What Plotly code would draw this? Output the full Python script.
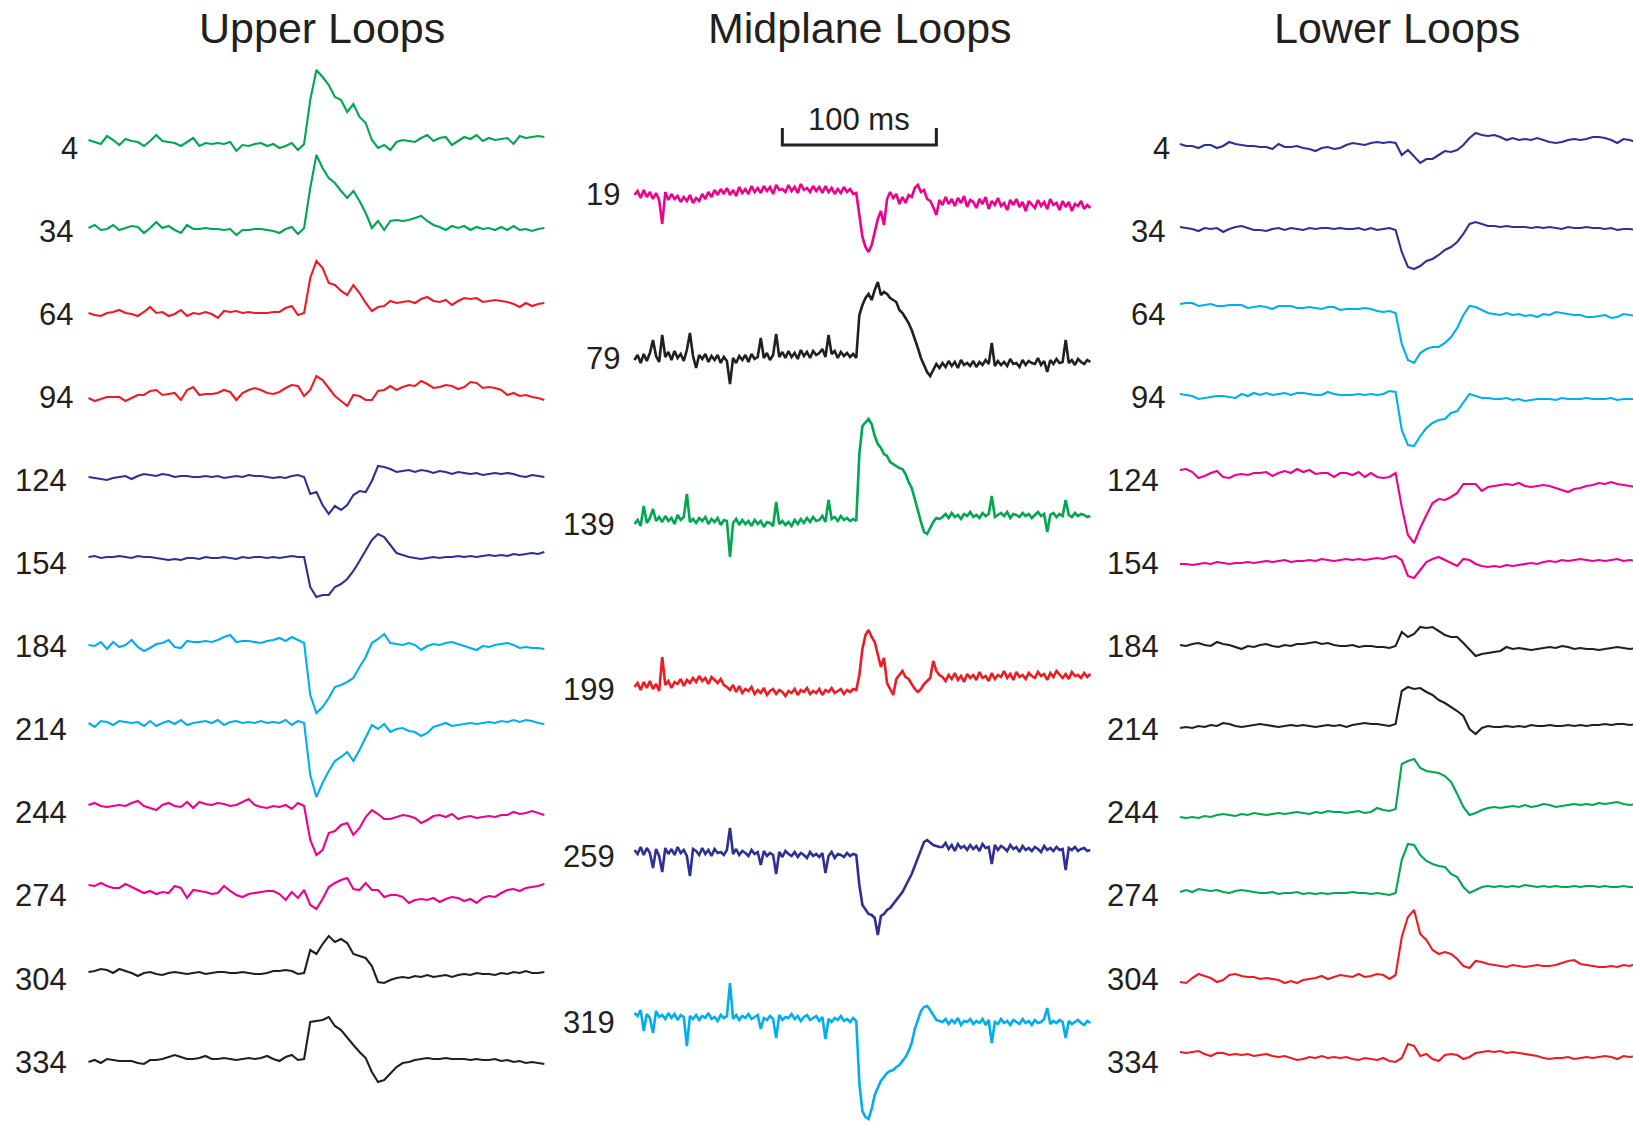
import plotly.graph_objects as go

# ---------------- data (values in trace units, up = positive) ----------------
# time grids (ms)
t_side = [4 * i for i in range(75)]     # upper / lower loops, 4 ms sampling
t_mid = [2 * i for i in range(149)]     # midplane loops, 2 ms sampling

upper_labels = ["4", "34", "64", "94", "124", "154", "184", "214", "244", "274", "304", "334"]
mid_labels = ["19", "79", "139", "199", "259", "319"]
lower_labels = ["4", "34", "64", "94", "124", "154", "184", "214", "244", "274", "304", "334"]

up_4 = [0,-2,-4,4,0,-5,1,-1,-2,-6,-1,5,-1,-2,-3,-6,-2,2,-6,-3,-4,-3,-4,-2,-11,-5,-6,-4,-3,-6,-4,-8,-6,-3,-10,-4,
        40,70,63,55,43,40,28,36,23,17,0,-8,-5,-10,
        -2,0,-1,-2,2,5,-1,2,3,-5,-1,3,1,5,-1,2,0,1,2,-4,4,2,3,4,3]
up_34 = [0,3,-2,-1,3,-2,0,2,1,-5,0,6,0,2,-2,-5,3,-1,-1,0,-1,-1,-2,-1,-7,-2,-2,-1,-1,-2,-3,-5,-1,1,-6,0,
         40,73,60,50,45,37,30,37,27,15,0,7,-2,7,
         8,7,8,10,12,7,3,1,-2,2,0,2,-2,1,-1,0,-2,1,-2,2,-2,-1,-3,-1,0]
up_64 = [0,-2,-3,0,1,3,0,-1,-3,1,6,0,1,-3,-1,3,-3,0,-1,1,-1,-5,2,1,2,0,1,0,0,0,1,1,5,7,-2,0,
         35,52,45,30,28,22,18,28,20,10,2,6,7,12,
         10,11,12,10,14,16,12,11,13,8,12,15,14,15,11,12,13,12,11,9,6,10,7,9,10]
up_94 = [0,-3,-1,1,1,1,-3,0,3,3,7,8,3,4,5,-2,8,11,3,4,4,5,8,6,-2,5,8,10,8,5,4,6,10,13,12,2,
         8,22,18,10,2,-3,-8,3,2,-2,-2,7,8,12,
         8,11,13,12,17,14,10,11,13,12,9,11,16,15,10,11,10,8,3,5,2,3,1,0,-2]
up_124 = [0,-1,-2,-3,-1,0,1,-2,1,3,2,1,3,2,0,1,1,0,0,1,0,1,-1,0,1,0,2,1,1,0,-1,0,-1,1,2,0,
          -17,-15,-28,-37,-29,-33,-28,-18,-14,-15,-4,11,10,8,
          5,6,7,5,7,6,4,6,5,3,5,4,3,4,2,3,4,3,4,3,1,0,2,1,0]
up_154 = [0,1,-1,0,0,1,0,-1,1,0,0,-1,-2,-3,-2,-3,-1,-1,-2,0,-1,-1,0,-1,-2,0,-1,0,0,-1,0,-1,0,1,0,0,
          -30,-40,-38,-38,-30,-27,-22,-14,-4,6,17,23,20,12,
          4,2,0,-1,-2,-1,0,-1,0,0,1,0,1,0,1,2,1,2,1,3,2,3,4,3,5]
up_184 = [0,-1,3,-4,3,-2,0,5,-2,-6,-3,1,2,5,-2,-3,4,3,3,4,3,5,8,10,3,4,4,3,2,4,5,7,4,8,5,2,
          -50,-68,-62,-53,-42,-40,-37,-33,-22,-12,2,6,11,2,
          1,0,2,0,-5,-1,1,0,2,3,1,-1,-3,-5,-1,-2,0,1,2,0,-3,-2,-3,-3,-4]
up_214 = [0,-4,2,1,-2,2,1,0,1,-3,2,-3,0,2,-1,3,-2,0,1,2,0,3,-2,1,2,0,1,0,2,0,1,0,3,-2,2,0,
          -52,-74,-60,-48,-38,-34,-29,-38,-27,-15,-2,-6,-1,-9,
          -6,-5,-8,-9,-13,-10,-4,-2,0,-3,-2,-1,0,-1,0,1,0,2,1,3,1,3,2,0,-1]
up_244 = [0,2,-1,-2,-1,0,-1,2,4,-1,-3,-5,0,2,-1,-2,3,-3,3,1,0,2,1,-1,0,3,6,0,-2,-3,-1,-2,0,-4,2,-1,
          -35,-50,-45,-28,-26,-20,-18,-30,-23,-12,-5,-9,-14,-14,
          -12,-10,-11,-13,-18,-15,-11,-10,-12,-9,-14,-12,-11,-13,-12,-11,-12,-10,-10,-7,-9,-8,-6,-8,-10]
up_274 = [0,-1,2,-1,-3,-3,1,-2,-5,-8,-6,-9,-7,-8,-1,-3,-13,-5,-6,-7,-9,-8,-1,-6,-10,-12,-9,-8,-7,-6,-6,-9,-15,-7,-13,-5,
          -20,-24,-14,-2,2,5,7,-4,-5,2,-5,-5,-12,-10,
          -10,-12,-18,-15,-14,-15,-13,-17,-14,-12,-13,-16,-14,-18,-13,-11,-12,-8,-5,-4,-6,-3,-2,-1,1]
up_304 = [0,1,3,2,-1,3,1,-1,-4,-1,0,-2,-3,-1,0,-1,-2,-1,0,-2,-1,0,0,-1,-1,0,-1,-2,-2,-1,1,1,2,1,-2,-1,
          22,18,28,36,30,33,29,18,16,14,6,-10,-11,-8,
          -6,-5,-6,-4,-5,-3,-5,-4,-3,-5,-3,-2,-3,-1,-2,-2,-3,-1,-2,0,-1,1,-1,-1,0]
up_334 = [0,2,-1,3,2,1,1,1,-1,-2,2,2,3,5,7,5,3,3,4,6,3,3,4,3,2,3,4,3,4,6,3,1,5,7,2,3,
          40,41,42,45,36,32,24,17,10,4,-10,-20,-18,-12,
          -5,-1,0,2,3,4,3,3,4,3,3,3,2,3,2,2,3,1,2,0,1,-1,0,-1,-2]

mid_19 = [0,4,-3,5,-2,3,-4,2,-5,-29, 3,-5,1,-4,-1,-7,-2,-6,0,-8, -3,-6,1,-4,3,-2,5,0,6,1,
          7,0,5,-1,8,2,6,1,9,3, 7,2,9,4,8,1,10,5,6,3, 10,4,8,2,11,5,7,3,9,4, 8,2,9,3,7,1,6,2,8,3, 6,1,
          2,-18,-42,-52,-57,-50,-38,-24,-16,-30,-4,3,-3,1,-9,-2,-8,0,-2,7,10,3,5,-4,-6,-12,-20,-5,
          -10,-2,-9,-4,-11,-3,-8,-1,-12,-5, -7,-13,-4,-9,-2,-14,-6,-10,-3,-11,
          -8,-15,-5,-10,-4,-12,-7,-16,-6,-9, -13,-5,-11,-7,-14,-4,-10,-8,-15,-6,
          -12,-7,-16,-9,-11,-6,-14,-10,-13]
mid_79 = [0,5,-3,6,-1,7,20,4,-2,25, 3,8,0,9,2,6,-1,10,27,4, -8,5,1,6,-2,4,0,5,-3,3,
          -1,-24,2,-3,4,0,5,-2,6,1, 3,22,2,7,0,5,26,3,8,2, 9,3,7,1,10,4,8,2,9,5, 7,11,3,25,6,9,2,8,4,7, 3,6,
          2,45,55,62,66,60,70,78,65,68,66,62,60,58,50,47,42,37,30,22,12,2,-6,-12,-16,-10,-4,-8,
          -3,-7,-1,-6,-2,-8,0,-5,-3,-6, -1,-7,-2,-5,0,-4,17,-6,-1,-5,
          -2,-6,1,-4,-3,-7,0,-5,-1,-3, -4,2,-5,-1,-12,0,-4,1,-3,-2,
          20,-3,0,-5,1,-2,-4,0,-2]
mid_139 = [0,4,-2,18,1,6,15,3,7,2, 8,3,6,0,9,4,7,30,2,5, 1,6,3,7,0,5,2,6,-1,4,
           3,-33,1,5,-1,4,0,3,-2,4, 0,3,-3,2,1,-2,22,0,3,-1, 2,-2,4,0,5,1,6,2,7,3, 4,8,2,24,5,7,3,8,4,6, 3,5,
           3,70,98,102,105,100,88,80,76,70,68,62,60,58,56,55,50,42,36,25,12,2,-8,-10,-4,2,6,5,
           7,10,6,11,7,9,5,10,8,12, 7,9,6,11,8,10,28,7,9,11,
           8,12,6,10,9,7,11,8,10,6, 9,12,8,10,-8,9,11,7,10,8,
           24,9,7,11,8,10,9,7,8]
mid_199 = [0,4,-3,5,-1,6,-2,3,-4,30, 2,6,-1,5,3,8,1,7,4,9, 5,11,6,9,3,10,7,4,8,2,
           0,-3,2,-5,1,-6,-2,-4,0,-7, -3,-6,-1,-8,-4,-2,-7,-3,-5,-9, -4,-6,-2,-8,-3,-5,-1,-7,-4,-6,
           -2,-8,-3,-5,-1,-6,-4,-2,-7,-3, -5,-2,
           -3,12,38,52,57,50,45,32,20,29,4,-2,-8,8,12,16,10,8,3,-2,-5,-2,3,6,9,26,16,12,
           10,6,12,8,14,7,11,5,13,9, 12,7,15,9,11,6,14,8,12,10,
           16,9,13,7,15,10,12,8,14,11, 9,15,11,13,7,14,10,16,12,9,
           13,8,15,11,12,9,14,10,13]
mid_259 = [0,-4,3,-5,2,-3,-18,1,-6,-22, 2,-4,1,-5,3,-3,0,-6,-26,1, -1,-5,2,-4,0,-6,1,-3,-2,-5,
           0,22,-4,1,-5,-1,-3,-6,0,-4, -2,-15,-1,-6,-3,-5,-24,-2,-7,-1, -4,-6,-2,-7,-3,-5,-8,-2,-6,-4,
           -7,-3,-23,-6,-2,-8,-4,-5,-7,-3, -6,-4,
           -5,-35,-55,-60,-64,-65,-68,-85,-66,-64,-60,-58,-54,-50,-46,-42,-36,-30,-24,-16,-8,2,8,10,7,5,4,3,
           3,7,1,5,-1,6,2,4,0,5, 1,4,-1,6,2,3,-14,5,0,4,
           2,-1,5,1,3,-2,4,0,2,-1, 3,1,-2,4,0,2,-1,3,0,1,
           -20,2,0,3,-1,1,2,-1,0]
mid_319 = [0,-3,3,-18,-1,-5,-20,2,-4,-2, -6,0,-5,-1,-7,-2,-4,-33,-3,-6, -2,-7,-3,-5,0,-6,-4,-8,-2,-5,
           -3,30,-6,-2,-7,-3,-5,-1,-6,-4, -2,-16,-5,-7,-3,-6,-25,-2,-7,-4, -5,-1,-6,-3,-8,-4,-2,-7,-5,-3,
           -8,-4,-26,-6,-9,-5,-7,-3,-8,-6, -9,-5,
           -8,-70,-98,-104,-106,-96,-82,-75,-68,-64,-60,-58,-57,-54,-52,-48,-44,-38,-30,-16,-6,2,6,7,3,-2,-7,-8,
           -9,-6,-11,-7,-10,-5,-12,-8,-9,-6, -11,-8,-10,-6,-12,-7,-30,-9,-11,-6,
           -10,-8,-12,-7,-9,-11,-6,-10,-8,-12, -7,-10,-9,-6,5,-11,-8,-10,-7,-9,
           -25,-8,-11,-9,-7,-10,-12,-8,-10]

lo_4 = [0,-2,-2,-4,-1,-1,-4,-2,2,0,-1,-2,-2,-3,-3,-5,0,-3,-3,-2,-4,-5,-7,-4,-3,-5,-4,-1,1,0,-1,1,2,1,2,1,
        -11,-6,-12,-19,-15,-15,-11,-7,-8,-6,-1,6,11,9,
        8,9,7,4,6,4,5,4,6,4,2,1,2,4,5,4,5,7,7,6,4,1,5,4,2]
lo_34 = [0,-1,-2,-4,-1,-2,-1,-5,-2,0,1,-1,-3,-3,-4,-2,-1,-3,-1,-2,-3,-1,-2,-1,-1,-2,-1,-2,-2,-1,-3,-1,-3,-2,-1,-3,
         -25,-40,-42,-39,-34,-32,-28,-23,-20,-15,-7,3,5,3,
         1,1,0,1,0,0,0,-1,0,-1,0,-1,-2,0,-1,-1,0,-1,-1,-2,-1,-3,-2,-2,-3]
lo_64 = [0,1,1,-2,-1,0,-2,-2,-1,-1,-1,-4,-3,-2,-3,-5,-2,-2,-2,-4,-4,-3,-4,-5,-3,-3,-6,-5,-5,-5,-4,-5,-7,-8,-7,-9,
         -40,-56,-59,-49,-45,-43,-43,-39,-33,-24,-11,-2,-3,-6,
         -9,-10,-11,-9,-11,-10,-12,-11,-13,-10,-11,-8,-9,-10,-11,-11,-13,-13,-12,-11,-14,-13,-10,-11,-12]
lo_94 = [0,-1,-2,-5,-4,-3,-2,-2,-3,-4,0,-2,1,-1,1,-1,0,1,-1,1,1,0,-1,-1,2,0,-1,-1,-1,0,-1,0,-1,0,3,2,
         -36,-51,-52,-42,-34,-29,-26,-25,-19,-17,-9,0,-2,-4,
         -4,-5,-5,-4,-6,-5,-7,-6,-5,-5,-5,-6,-4,-5,-5,-5,-4,-5,-5,-5,-4,-6,-5,-5,-5]
lo_124 = [0,1,-2,-8,-6,-3,-1,-7,-8,-5,-4,-5,-3,-3,-2,-6,-3,-1,-3,1,-2,0,-4,-3,-3,-7,-3,-3,-5,-2,-7,-3,-7,-8,-7,-3,
          -37,-65,-73,-58,-45,-33,-29,-30,-27,-23,-14,-14,-14,-21,
          -17,-16,-15,-14,-15,-13,-16,-17,-16,-15,-16,-18,-20,-22,-19,-18,-16,-15,-13,-14,-12,-14,-15,-16,-17]
lo_154 = [0,0,-1,0,1,0,2,1,0,1,1,2,1,2,3,2,3,4,2,3,3,4,3,5,4,3,4,5,4,5,4,5,6,5,7,8,
          4,-12,-14,-6,2,5,7,4,1,-2,5,4,0,-2,
          -3,-2,-3,-1,-2,-1,0,1,0,2,3,2,4,3,4,5,4,3,4,3,4,5,3,4,3]
lo_184 = [0,-1,1,2,0,-1,3,1,0,-2,-4,-1,-2,0,1,-1,-2,0,-1,1,1,2,3,1,2,0,-1,-1,0,-2,-1,-1,-2,-2,-3,-1,
          13,8,11,18,17,18,14,10,8,8,2,-5,-11,-9,
          -8,-7,-6,-2,-4,-3,-4,-5,-4,-3,-2,-3,-1,-2,-4,-3,-4,-4,-5,-4,-3,-2,-3,-4,-3]
lo_214 = [0,1,0,2,1,3,2,5,4,2,1,2,3,4,3,2,1,2,3,2,3,2,1,2,3,2,3,1,3,4,5,4,4,3,2,4,
          37,41,39,40,36,33,28,25,21,17,12,-1,-6,0,
          2,1,1,2,1,2,1,3,2,2,3,2,2,3,2,3,2,3,3,4,3,4,4,3,4]
lo_244 = [0,-1,0,-1,1,0,2,3,2,1,3,2,4,3,2,3,4,3,4,5,4,3,5,4,6,5,5,4,5,6,4,5,9,7,6,8,
          53,56,58,49,46,45,44,41,35,23,10,2,4,7,
          9,10,9,10,11,10,12,10,11,13,12,10,11,12,13,12,13,12,14,13,14,15,13,12,13]
lo_274 = [0,2,0,3,2,1,2,0,-1,1,2,1,0,-1,-1,0,-2,-1,-1,0,-2,-1,-2,-1,-2,-1,-1,-1,0,-1,-1,-2,-1,-2,-3,-1,
          32,48,47,37,31,28,26,25,18,15,5,-1,2,5,
          6,5,6,5,6,5,7,6,5,6,5,6,5,5,6,5,6,6,5,6,5,5,6,5,5]
lo_304 = [0,-1,4,8,6,4,0,2,7,8,6,5,5,3,4,3,2,-1,1,-1,2,3,4,6,3,5,7,6,5,8,5,6,8,7,3,7,
          45,65,72,48,42,32,28,30,28,23,16,14,21,20,
          18,17,16,15,17,16,15,16,17,16,16,17,19,21,22,18,17,16,15,15,16,15,17,16,18]
lo_334 = [0,-1,0,1,-2,-4,-1,-1,-3,-2,-3,-2,-4,-3,-2,-4,-5,-4,-6,-8,-7,-5,-6,-4,-6,-5,-6,-5,-7,-8,-6,-7,-8,-6,-9,-10,
          -6,8,6,-4,-2,-7,-9,-3,-2,-3,-7,-5,-1,0,
          1,0,1,-1,0,-1,-2,-3,-4,-6,-7,-6,-6,-5,-7,-6,-5,-6,-5,-4,-5,-7,-4,-5,-4]

scale_bar_ms = 100

# ---------------- styling / layout ----------------
W, H = 1633, 1124
PX_PER_MS = 1.54
GREEN, RED, DKBLUE, LTBLUE, MAGENTA, BLACK = "#00a651", "#ed1c24", "#2e3192", "#00aeef", "#ec008c", "#231f20"
TXT = "#231f20"
FONT = "Liberation Sans, Arial, Helvetica, sans-serif"

upper_series = [up_4, up_34, up_64, up_94, up_124, up_154, up_184, up_214, up_244, up_274, up_304, up_334]
mid_series = [mid_19, mid_79, mid_139, mid_199, mid_259, mid_319]
lower_series = [lo_4, lo_34, lo_64, lo_94, lo_124, lo_154, lo_184, lo_214, lo_244, lo_274, lo_304, lo_334]

upper_colors = [GREEN, GREEN, RED, RED, DKBLUE, DKBLUE, LTBLUE, LTBLUE, MAGENTA, MAGENTA, BLACK, BLACK]
mid_colors = [MAGENTA, BLACK, GREEN, RED, DKBLUE, LTBLUE]
lower_colors = [DKBLUE, DKBLUE, LTBLUE, LTBLUE, MAGENTA, MAGENTA, BLACK, BLACK, GREEN, GREEN, RED, RED]

# vertical placement (px from top) of each trace start and its label
upper_base = [140, 228, 313, 398, 477, 557, 645, 723, 805, 885, 972, 1062]
mid_base = [195, 360, 524, 687, 850, 1013]
lower_base = [144, 227, 304, 394, 470, 564, 645, 728, 817, 892, 982, 1052]
side_label_y = [148 + 83.1 * i for i in range(12)]
mid_label_y = [194, 358, 524, 689, 856, 1022]

# horizontal start of each column (px)
col_x0 = {"x": 88.5, "x2": 634.5, "x3": 1180.0}

fig = go.Figure()

def add_column(series, colors, bases, xref, tgrid, width):
    for s, c, b in zip(series, colors, bases):
        fig.add_trace(go.Scatter(
            x=tgrid[:len(s)], y=[v - b for v in s], mode="lines",
            line=dict(color=c, width=width), xaxis=xref, yaxis="y",
            hoverinfo="skip", showlegend=False))

add_column(upper_series, upper_colors, upper_base, "x", t_side, 2.1)
add_column(mid_series, mid_colors, mid_base, "x2", t_mid, 2.6)
add_column(lower_series, lower_colors, lower_base, "x3", t_side, 2.1)

# scale bar (100 ms) drawn on the midplane time axis
sb_start = 96
fig.add_trace(go.Scatter(
    x=[sb_start, sb_start, sb_start + scale_bar_ms, sb_start + scale_bar_ms],
    y=[-128, -145, -145, -128], mode="lines",
    line=dict(color=TXT, width=3), xaxis="x2", yaxis="y",
    hoverinfo="skip", showlegend=False))

annotations = []
def label(text, x_right, y):
    annotations.append(dict(text=text, x=x_right / W, xref="paper", xanchor="right",
                            y=-y, yref="y", yanchor="middle", showarrow=False,
                            font=dict(family=FONT, size=31, color=TXT)))

for lab, y in zip(upper_labels, side_label_y):
    label(lab, 80 - 5.5 * (len(lab) - 1), y)
for lab, y in zip(mid_labels, mid_label_y):
    label(lab, 622 - 5.5 * (len(lab) - 2), y)
for lab, y in zip(lower_labels, side_label_y):
    label(lab, 1172 - 5.5 * (len(lab) - 1), y)

for txt, xc in [("Upper Loops", 322), ("Midplane Loops", 860), ("Lower Loops", 1397)]:
    annotations.append(dict(text=txt, x=xc / W, xref="paper", xanchor="center",
                            y=-28, yref="y", yanchor="middle", showarrow=False,
                            font=dict(family=FONT, size=43, color=TXT)))

annotations.append(dict(text=f"{scale_bar_ms} ms", x=sb_start + scale_bar_ms / 2, xref="x2",
                        xanchor="center", y=-119, yref="y", yanchor="middle", showarrow=False,
                        font=dict(family=FONT, size=31, color=TXT)))

def xrange(x0):
    return [-x0 / PX_PER_MS, (W - x0) / PX_PER_MS]

axis_common = dict(visible=False, domain=[0, 1], fixedrange=True)
fig.update_layout(
    width=W, height=H, margin=dict(l=0, r=0, t=0, b=0),
    paper_bgcolor="white", plot_bgcolor="white", showlegend=False,
    xaxis=dict(range=xrange(col_x0["x"]), **axis_common),
    xaxis2=dict(range=xrange(col_x0["x2"]), overlaying="x", **axis_common),
    xaxis3=dict(range=xrange(col_x0["x3"]), overlaying="x", **axis_common),
    yaxis=dict(range=[-H, 0], visible=False, domain=[0, 1], fixedrange=True),
    annotations=annotations,
)

fig.write_html("out.html")
